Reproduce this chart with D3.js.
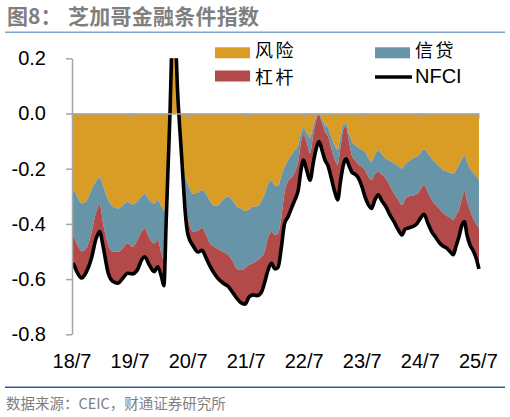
<!DOCTYPE html>
<html><head><meta charset="utf-8">
<script src="https://cdnjs.cloudflare.com/ajax/libs/d3/7.8.5/d3.min.js"></script>
<style>body{margin:0;background:#fff}svg{display:block}</style>
</head><body><svg id="c" width="510" height="417"></svg>
<script>
// time in decimal years
const dates = [2018.515,2018.541,2018.583,2018.667,2018.750,2018.834,2018.917,2018.977,2019.041,2019.125,
2019.208,2019.292,2019.375,2019.458,2019.542,2019.625,2019.708,2019.751,2019.833,2019.916,
2019.976,2020.042,2020.083,2020.124,2020.157,2020.188,2020.214,2020.248,2020.283,2020.314,
2020.343,2020.378,2020.412,2020.447,2020.498,2020.590,2020.671,2020.739,2020.808,2020.877,
2020.946,2021.020,2021.101,2021.192,2021.273,2021.342,2021.411,2021.480,2021.549,2021.618,
2021.687,2021.756,2021.816,2021.876,2021.937,2021.997,2022.049,2022.109,2022.161,2022.221,
2022.290,2022.341,2022.398,2022.445,2022.488,2022.543,2022.600,2022.660,2022.712,2022.755,
2022.807,2022.858,2022.910,2022.962,2023.022,2023.077,2023.125,2023.177,2023.220,2023.272,
2023.323,2023.375,2023.432,2023.496,2023.547,2023.599,2023.659,2023.720,2023.776,2023.840,
2023.909,2023.978,2024.047,2024.116,2024.185,2024.236,2024.293,2024.374,2024.443,2024.503,
2024.564,2024.633,2024.696,2024.770,2024.839,2024.896,2024.960,2025.020,2025.068,2025.115,
2025.167,2025.218,2025.261,2025.304,2025.356,2025.408,2025.459,2025.511];

const risk = [-0.276,-0.281,-0.297,-0.326,-0.317,-0.277,-0.245,-0.232,-0.265,-0.313,
-0.338,-0.344,-0.332,-0.321,-0.330,-0.319,-0.298,-0.292,-0.313,-0.326,
-0.313,-0.338,-0.353,-0.307,-0.143,0.031,0.225,0.410,0.307,0.123,
0.020,-0.102,-0.205,-0.225,-0.256,-0.290,-0.287,-0.277,-0.292,-0.317,
-0.333,-0.332,-0.312,-0.301,-0.317,-0.338,-0.344,-0.353,-0.348,-0.338,
-0.336,-0.322,-0.292,-0.256,-0.242,-0.261,-0.261,-0.225,-0.194,-0.169,
-0.148,-0.132,-0.113,-0.072,-0.051,-0.072,-0.087,-0.041,-0.010,0.000,
-0.020,-0.042,-0.051,-0.082,-0.113,-0.132,-0.082,-0.041,-0.038,-0.072,
-0.102,-0.114,-0.123,-0.131,-0.138,-0.159,-0.174,-0.148,-0.132,-0.148,
-0.164,-0.172,-0.180,-0.190,-0.199,-0.184,-0.174,-0.162,-0.156,-0.143,
-0.130,-0.146,-0.163,-0.179,-0.194,-0.205,-0.210,-0.215,-0.219,-0.205,
-0.186,-0.164,-0.150,-0.174,-0.199,-0.215,-0.225,-0.242];

const credit = [-0.164,-0.169,-0.174,-0.173,-0.169,-0.157,-0.112,-0.099,-0.139,-0.163,
-0.163,-0.157,-0.157,-0.149,-0.153,-0.139,-0.128,-0.124,-0.139,-0.145,
-0.145,-0.169,-0.179,-0.041,-0.020,-0.020,-0.010,-0.010,-0.010,-0.010,
-0.020,-0.010,-0.020,-0.072,-0.123,-0.138,-0.138,-0.138,-0.148,-0.154,
-0.150,-0.160,-0.189,-0.212,-0.220,-0.225,-0.223,-0.208,-0.200,-0.205,
-0.197,-0.200,-0.210,-0.194,-0.186,-0.179,-0.174,-0.148,-0.092,-0.077,
-0.082,-0.079,-0.061,-0.031,-0.026,-0.031,-0.057,-0.031,-0.010,-0.005,
-0.015,-0.024,-0.031,-0.041,-0.051,-0.054,-0.041,-0.015,-0.010,-0.031,
-0.051,-0.055,-0.061,-0.063,-0.067,-0.067,-0.068,-0.072,-0.079,-0.075,
-0.072,-0.092,-0.110,-0.122,-0.133,-0.128,-0.127,-0.135,-0.136,-0.133,
-0.129,-0.140,-0.150,-0.154,-0.154,-0.157,-0.161,-0.164,-0.167,-0.164,
-0.164,-0.143,-0.133,-0.143,-0.151,-0.164,-0.174,-0.174];

const leverage = [-0.102,-0.102,-0.102,-0.097,-0.087,-0.091,-0.096,-0.096,-0.084,-0.103,
-0.108,-0.115,-0.108,-0.108,-0.099,-0.108,-0.101,-0.103,-0.096,-0.102,
-0.096,-0.085,-0.092,-0.031,-0.020,-0.010,-0.010,-0.010,-0.010,-0.010,
-0.010,-0.010,-0.010,-0.051,-0.061,-0.053,-0.077,-0.081,-0.082,-0.082,
-0.095,-0.107,-0.113,-0.115,-0.113,-0.107,-0.119,-0.130,-0.118,-0.115,
-0.128,-0.128,-0.113,-0.118,-0.115,-0.123,-0.123,-0.107,-0.113,-0.128,
-0.107,-0.101,-0.103,-0.102,-0.092,-0.102,-0.097,-0.102,-0.102,-0.097,
-0.097,-0.103,-0.107,-0.107,-0.118,-0.127,-0.123,-0.128,-0.116,-0.087,
-0.060,-0.051,-0.049,-0.072,-0.096,-0.102,-0.102,-0.092,-0.084,-0.094,
-0.102,-0.104,-0.102,-0.107,-0.108,-0.107,-0.114,-0.113,-0.107,-0.102,
-0.106,-0.113,-0.115,-0.118,-0.123,-0.120,-0.119,-0.123,-0.126,-0.113,
-0.096,-0.097,-0.109,-0.123,-0.126,-0.118,-0.123,-0.147];

const nfci = [-0.542,-0.552,-0.573,-0.596,-0.573,-0.525,-0.452,-0.428,-0.488,-0.579,
-0.609,-0.615,-0.597,-0.579,-0.581,-0.567,-0.527,-0.519,-0.549,-0.573,
-0.555,-0.592,-0.624,-0.379,-0.184,0.000,0.205,0.390,0.287,0.103,
-0.010,-0.122,-0.235,-0.348,-0.440,-0.481,-0.502,-0.496,-0.522,-0.553,
-0.578,-0.599,-0.614,-0.627,-0.650,-0.670,-0.686,-0.691,-0.665,-0.657,
-0.660,-0.650,-0.614,-0.568,-0.543,-0.563,-0.558,-0.481,-0.399,-0.374,
-0.338,-0.312,-0.277,-0.205,-0.169,-0.205,-0.242,-0.174,-0.123,-0.102,
-0.133,-0.169,-0.189,-0.230,-0.281,-0.313,-0.246,-0.184,-0.164,-0.189,
-0.213,-0.220,-0.233,-0.266,-0.301,-0.328,-0.344,-0.312,-0.295,-0.317,
-0.338,-0.368,-0.392,-0.420,-0.440,-0.420,-0.415,-0.409,-0.399,-0.379,
-0.365,-0.399,-0.428,-0.450,-0.471,-0.481,-0.489,-0.502,-0.512,-0.481,
-0.446,-0.404,-0.392,-0.440,-0.476,-0.496,-0.522,-0.563];

const seriesKeys = ["risk","credit","leverage"];
const seriesNames = ["风险","信贷","杠杆"];
const lineName = "NFCI";
const yTickValues = [0.2,0.0,-0.2,-0.4,-0.6,-0.8];
const yTickLabels = ["0.2","0.0","-0.2","-0.4","-0.6","-0.8"];
const xTickValues = [2018.5,2019.5,2020.5,2021.5,2022.5,2023.5,2024.5,2025.5];
const xTickLabels = ["18/7","19/7","20/7","21/7","22/7","23/7","24/7","25/7"];
const titleLead = "图8：";
const titleText = "芝加哥金融条件指数";
const sourceText = "数据来源：CEIC，财通证券研究所";

const colors = {risk:"#D99C25", credit:"#6894A8", leverage:"#B24A49"};
const NUM = "'Liberation Sans', Arial, sans-serif";
const CJK = "'Noto Sans CJK SC', 'Noto Sans', sans-serif";

const svg = d3.select("#c");
const x = d3.scaleLinear().domain([2018.5, 2025.5]).range([72, 478.35]);
const y = d3.scaleLinear().domain([-0.8, 0.2]).range([334.3, 58.3]);

// title
svg.append("text").attr("x",7).attr("y",24).attr("fill","#7f7f7f")
  .attr("font-family",CJK).attr("font-weight","bold").attr("font-size",21).text(titleLead);
svg.append("text").attr("x",68).attr("y",24).attr("fill","#7f7f7f")
  .attr("font-family",CJK).attr("font-weight","bold").attr("font-size",21)
  .attr("textLength",191).attr("lengthAdjust","spacing").text(titleText);
svg.append("line").attr("x1",5).attr("x2",505).attr("y1",32.3).attr("y2",32.3)
  .attr("stroke","#7FA3CC").attr("stroke-width",1.5);

// footer
svg.append("line").attr("x1",5).attr("x2",505).attr("y1",387.3).attr("y2",387.3)
  .attr("stroke","#2E5C9E").attr("stroke-width",1.5);
svg.append("text").attr("x",6).attr("y",409).attr("fill","#808080")
  .attr("font-family",CJK).attr("font-size",14.5).text(sourceText);

// data table
const rows = dates.map((d,i)=>({date:d, risk:risk[i], credit:credit[i], leverage:leverage[i]}));
const stacked = d3.stack().keys(seriesKeys).offset(d3.stackOffsetNone)(rows);

svg.append("defs").append("clipPath").attr("id","plot")
  .append("rect").attr("x",72).attr("y",y(0.2)).attr("width",410).attr("height",y(-0.8)-y(0.2));

const area = d3.area()
  .x(d=>x(d.data.date)).y0(d=>y(d[0])).y1(d=>y(d[1]))
  .curve(d3.curveMonotoneX);

const gPlot = svg.append("g").attr("clip-path","url(#plot)");
gPlot.selectAll("path.layer").data(stacked).join("path")
  .attr("class","layer").attr("d",area).attr("fill",d=>colors[d.key]);

// x axis along zero
const gx = svg.append("g").attr("transform",`translate(0,${y(0)})`)
  .call(d3.axisBottom(x).tickValues(xTickValues).tickSize(5).tickSizeOuter(0).tickFormat(()=>""));
gx.select(".domain").attr("stroke","#A6A6A6").attr("stroke-width",1.5);
gx.selectAll(".tick line").attr("stroke","#A6A6A6").attr("stroke-width",1.5);

// x labels
svg.append("g").selectAll("text").data(xTickValues).join("text")
  .attr("x",d=>x(d)).attr("y",368).attr("text-anchor","middle")
  .attr("font-family",NUM).attr("font-size",20).attr("fill","#000")
  .text((d,i)=>xTickLabels[i]);

// y axis
const gy = svg.append("g").attr("transform","translate(72,0)")
  .call(d3.axisLeft(y).tickValues(yTickValues).tickSize(6).tickSizeOuter(0).tickPadding(20)
    .tickFormat((d,i)=>yTickLabels[i]));
gy.select(".domain").attr("stroke","#A6A6A6").attr("stroke-width",1.5);
gy.selectAll(".tick line").attr("stroke","#A6A6A6").attr("stroke-width",1.5);
gy.selectAll(".tick text").attr("font-family",NUM).attr("font-size",20).attr("fill","#000");

// NFCI line
const line = d3.line().x((d,i)=>x(dates[i])).y(d=>y(d)).curve(d3.curveMonotoneX);
gPlot.append("path").datum(nfci).attr("d",line).attr("fill","none")
  .attr("stroke","#000").attr("stroke-width",3.6).attr("stroke-linejoin","round");

// legend
const leg = svg.append("g");
const legPos = [{k:"risk",x:215,y:47.3,ty:57},{k:"credit",x:375,y:47.3,ty:57},{k:"leverage",x:215,y:70.5,ty:83.5}];
legPos.forEach((p,i)=>{
  leg.append("rect").attr("x",p.x).attr("y",p.y).attr("width",35).attr("height",11)
    .attr("fill",colors[p.k]);
  leg.append("text").attr("x",p.x+40).attr("y",p.ty).attr("font-family",CJK)
    .attr("font-size",18).attr("letter-spacing",2.5).attr("fill","#000").text(seriesNames[i]);
});
leg.append("line").attr("x1",375).attr("x2",412).attr("y1",77).attr("y2",77)
  .attr("stroke","#000").attr("stroke-width",3.6);
leg.append("text").attr("x",415).attr("y",83).attr("font-family",NUM)
  .attr("font-size",20).attr("fill","#000").text(lineName);
</script></body></html>
